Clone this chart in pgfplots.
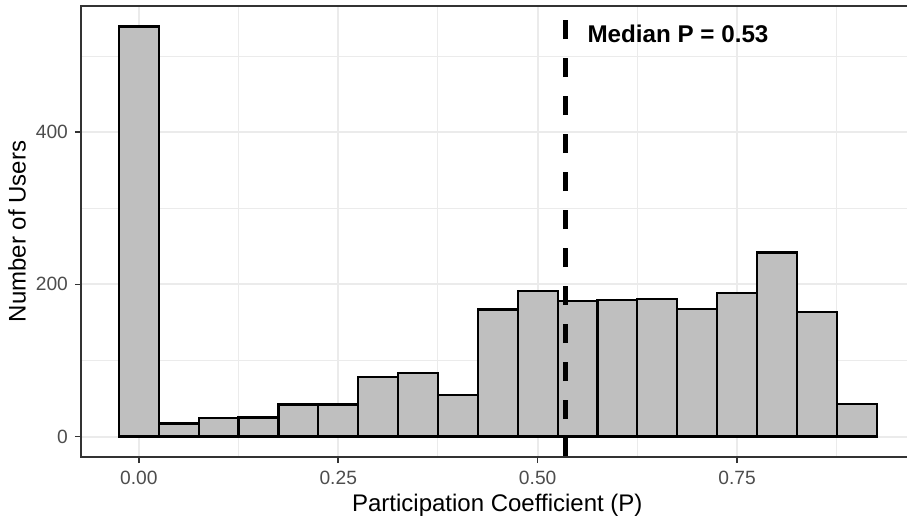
\documentclass[border=0pt]{standalone}
\usepackage{pgfplots}
\pgfplotsset{compat=1.18}
\usepackage{fontspec}
\setmainfont{Liberation Sans}
\definecolor{barfill}{HTML}{BFBFBF}
\definecolor{gridc}{HTML}{EBEBEB}
\definecolor{border}{HTML}{333333}
\definecolor{ticklab}{HTML}{4D4D4D}
\begin{document}
\begin{tikzpicture}
\begin{axis}[
  name=ax,
  scale only axis,
  width=413pt, height=225.5pt,
  xmin=-0.0725, xmax=0.963,
  ymin=-26.95, ymax=565.95,
  axis line style={draw=none},
  xtick={0,0.25,0.5,0.75},
  xticklabels={0.00,0.25,0.50,0.75},
  ytick={0,200,400},
  yticklabels={0,200,400},
  minor xtick={0.125,0.375,0.625,0.875},
  minor ytick={100,300,500},
  grid=both,
  major grid style={draw=gridc, line width=1pt},
  minor grid style={draw=gridc, line width=0.5pt},
  tick align=outside,
  major tick length=3pt,
  minor tick length=0pt,
  tick style={draw=border, line width=0.8pt},
  xtick pos=left, ytick pos=left,
  ticklabel style={font=\fontsize{9.6}{11}\selectfont, text=ticklab, inner sep=0pt},
  xticklabel style={yshift=-3.85pt},
  yticklabel style={xshift=-3.35pt},
  xlabel={Participation Coefficient (P)},
  ylabel={Number of Users},
  label style={font=\fontsize{12}{14}\selectfont},
  x label style={at={(axis description cs:0.504,-0.1197)}, anchor=base},
  y label style={at={(axis description cs:-0.06695,0.5)}, anchor=base},
]
\addplot[ybar interval, fill=barfill, draw=black, line width=1.1pt] coordinates {
  (-0.025,539) (0.025,17) (0.075,24) (0.125,25) (0.175,42) (0.225,42)
  (0.275,78) (0.325,84) (0.375,55) (0.425,167) (0.475,191) (0.525,178)
  (0.575,179) (0.625,181) (0.675,168) (0.725,189) (0.775,242) (0.825,164)
  (0.875,43) (0.925,0)
};
\addplot[black, line width=2.2pt, dash pattern=on 9.6pt off 9.4pt] coordinates {(0.535,-26.95) (0.535,565.95)};
\node[anchor=base west, font=\bfseries\fontsize{12.1}{14}\selectfont, inner sep=0pt] at (axis cs:0.562,518.5) {Median P = 0.53};
\end{axis}
\draw[border, line width=0.8pt] ([xshift=10pt]ax.north east) -- (ax.north west) -- (ax.south west) -- ([xshift=10pt]ax.south east);
\pgfresetboundingbox
\path ([xshift=-40.5pt,yshift=-30.5pt]ax.south west) rectangle ([yshift=3pt]ax.north east);
\end{tikzpicture}
\end{document}
